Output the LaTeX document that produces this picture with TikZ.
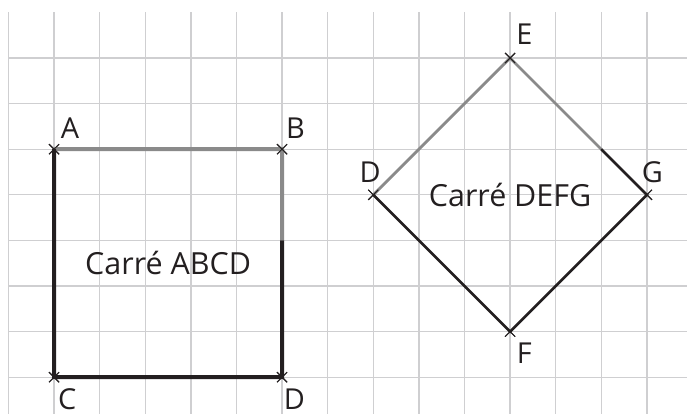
\documentclass[tikz,border=0pt]{standalone}
\usepackage{fontspec}
\setmainfont{Open Sans}
\usetikzlibrary{positioning,calc,shapes.misc}
\definecolor{gridgray}{HTML}{CFCFD1}
\definecolor{sidegray}{HTML}{8A8A8A}
\definecolor{sideblack}{HTML}{231F20}
\tikzset{
  pnt/.style  = {cross out, draw=sideblack, minimum size=2mm, inner sep=0pt, line width=0.6pt},
  lbl/.style  = {inner sep=0pt, text=sideblack, font=\fontsize{18}{20}\selectfont},
  big/.style  = {lbl, font=\fontsize{19}{22}\selectfont},
  thick1/.style = {line width=2.5pt},
  thick2/.style = {line width=1.7pt},
}

\begin{document}
\begin{tikzpicture}
  \useasboundingbox (-0.186,0.272) rectangle (14.88,-8.807);
  % grid
  \foreach \x in {0,...,14} \draw[gridgray, line width=0.8pt] (\x,0) -- (\x,-8.807);
  \foreach \y in {1,...,8} \draw[gridgray, line width=0.8pt] (0,-\y) -- (14.88,-\y);

  % square ABCD
  \node[pnt] (A) at (1,-3) {};
  \node[pnt] (B) at (6,-3) {};
  \node[pnt] (C) at (1,-8) {};
  \node[pnt] (D) at (6,-8) {};
  \coordinate (bm) at ($(B.center)!0.4!(D.center)$);
  \draw[thick1, sidegray] (A.center) -- (B.center) -- (bm);
  \draw[thick1, sideblack, line join=miter] (bm) -- (D.center) -- (C.center) -- (A.center);

  % square DEFG
  \node[pnt] (Dp) at (8,-4) {};
  \node[pnt] (E) at (11,-1) {};
  \node[pnt] (G) at (14,-4) {};
  \node[pnt] (F) at (11,-7) {};
  \coordinate (em) at ($(E.center)!0.6667!(G.center)$);
  \draw[thick2, sidegray] (Dp.center) -- (E.center) -- (em);
  \draw[thick2, sideblack, line join=miter] (em) -- (G.center) -- (F.center) -- (Dp.center);

  % redraw crosses on top
  \foreach \p in {A,B,C,D,Dp,E,F,G} \node[pnt] at (\p) {};

  % letters
  \node[lbl, above right=0.12cm and 0.03cm of A] (lA) {A};
  \node[lbl, above right=0.12cm and -0.03cm of B] (lB) {B};
  \node[lbl, below right=0.13cm and -0.03cm of C] (lC) {C};
  \node[lbl, below right=0.13cm and -0.08cm of D] (lD) {D};
  \node[lbl, above=0.16cm of Dp, xshift=-0.07cm] (lDp) {D};
  \node[lbl, above right=0.17cm and 0.02cm of E] (lE) {E};
  \node[lbl, above=0.14cm of G, xshift=0.12cm] (lG) {G};
  \node[lbl, below right=0.13cm and 0.03cm of F] (lF) {F};

  % names
  \node[big] (nABCD) at ($(A.center)!0.5!(D.center)$) {Carré ABCD};
  \node[big] (nDEFG) at ($(Dp.center)!0.5!(G.center)$) {Carré DEFG};
\end{tikzpicture}
\end{document}
